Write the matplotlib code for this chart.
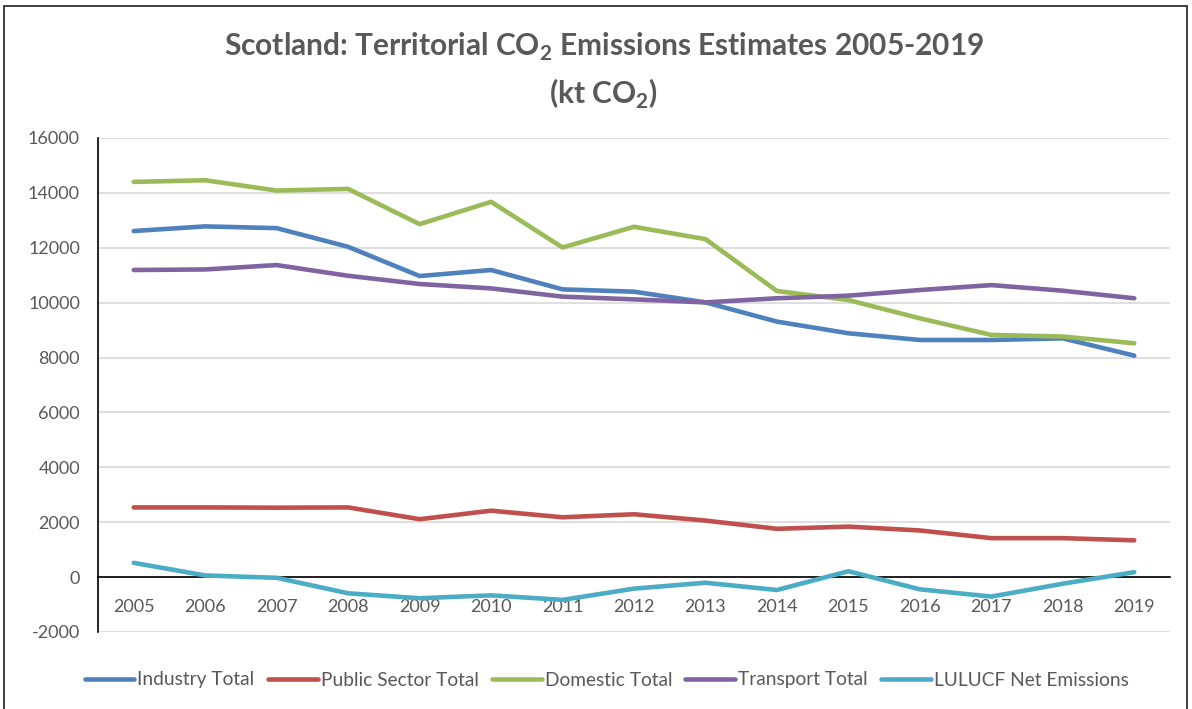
import matplotlib
matplotlib.use('Agg')
import matplotlib.pyplot as plt
from matplotlib.patches import Rectangle

plt.rcParams['font.family'] = ['Lato', 'DejaVu Sans']
plt.rcParams['mathtext.fontset'] = 'custom'
plt.rcParams['mathtext.rm'] = 'Lato'
plt.rcParams['mathtext.bf'] = 'Lato:bold'
plt.rcParams['axes.unicode_minus'] = False

# Data (kt CO2)
years = list(range(2005, 2020))
industry = [12610, 12780, 12715, 12035, 10970, 11190, 10485, 10400, 10010,
            9310, 8885, 8640, 8640, 8700, 8070]
public_sector = [2540, 2540, 2530, 2540, 2110, 2420, 2180, 2290, 2060,
                 1760, 1840, 1700, 1420, 1420, 1340]
domestic = [14400, 14460, 14085, 14145, 12860, 13675, 12010, 12765, 12315,
            10425, 10095, 9430, 8825, 8765, 8520]
transport = [11190, 11210, 11370, 10980, 10680, 10520, 10220, 10120, 10010,
             10160, 10255, 10460, 10640, 10435, 10160]
lulucf = [520, 60, -25, -590, -770, -665, -830, -420, -205,
          -470, 215, -445, -710, -240, 180]

series = [
    ('Industry Total', industry, '#4F81BD'),
    ('Public Sector Total', public_sector, '#C0504D'),
    ('Domestic Total', domestic, '#9BBB59'),
    ('Transport Total', transport, '#8064A2'),
    ('LULUCF Net Emissions', lulucf, '#4BACC6'),
]

text_col = '#595959'

fig = plt.figure(figsize=(11.92, 7.09), dpi=100)
ax = fig.add_axes([98 / 1192, 1 - 632 / 709, 1072 / 1192, 494 / 709])

for name, vals, col in series:
    ax.plot(years, vals, color=col, lw=3.3, label=name,
            solid_capstyle='round', solid_joinstyle='round', zorder=3)

ax.set_xlim(2004.5, 2019.5)
ax.set_ylim(-2000, 16000)
ax.set_yticks(range(-2000, 16001, 2000))
ax.set_xticks(years)
ax.grid(axis='y', color='#D9D9D9', lw=1.2, zorder=0)
ax.set_axisbelow(True)

for s in ['top', 'right']:
    ax.spines[s].set_visible(False)
ax.spines['bottom'].set_position(('data', 0))
ax.spines['bottom'].set_color('black')
ax.spines['bottom'].set_linewidth(1.2)
ax.spines['left'].set_color('black')
ax.spines['left'].set_linewidth(1.2)

ax.tick_params(axis='x', length=0, pad=16, labelsize=13, labelcolor=text_col)
ax.tick_params(axis='y', length=0, pad=13, labelsize=13, labelcolor=text_col)

fig.text(0.507, 1 - 47 / 709,
         r'Scotland: Territorial CO$_\mathbf{2}$ Emissions Estimates 2005-2019',
         ha='center', va='center', fontsize=21.5, fontweight='bold', color=text_col)
fig.text(0.506, 1 - 94 / 709, r'(kt CO$_\mathbf{2}$)',
         ha='center', va='center', fontsize=21.5, fontweight='bold', color=text_col)

fig.legend(loc='center', bbox_to_anchor=(0.509, 1 - 680 / 709), ncol=5,
           frameon=False, fontsize=13.8, handlelength=2.6, handletextpad=0.15,
           columnspacing=0.7, labelcolor=text_col)

fig.patches.append(Rectangle((4 / 1192, -0.02), 1183 / 1192, 1.02 - 6 / 709,
                             transform=fig.transFigure, fill=False,
                             edgecolor='#303030', lw=1.3))

fig.savefig('out.png', dpi=100)
